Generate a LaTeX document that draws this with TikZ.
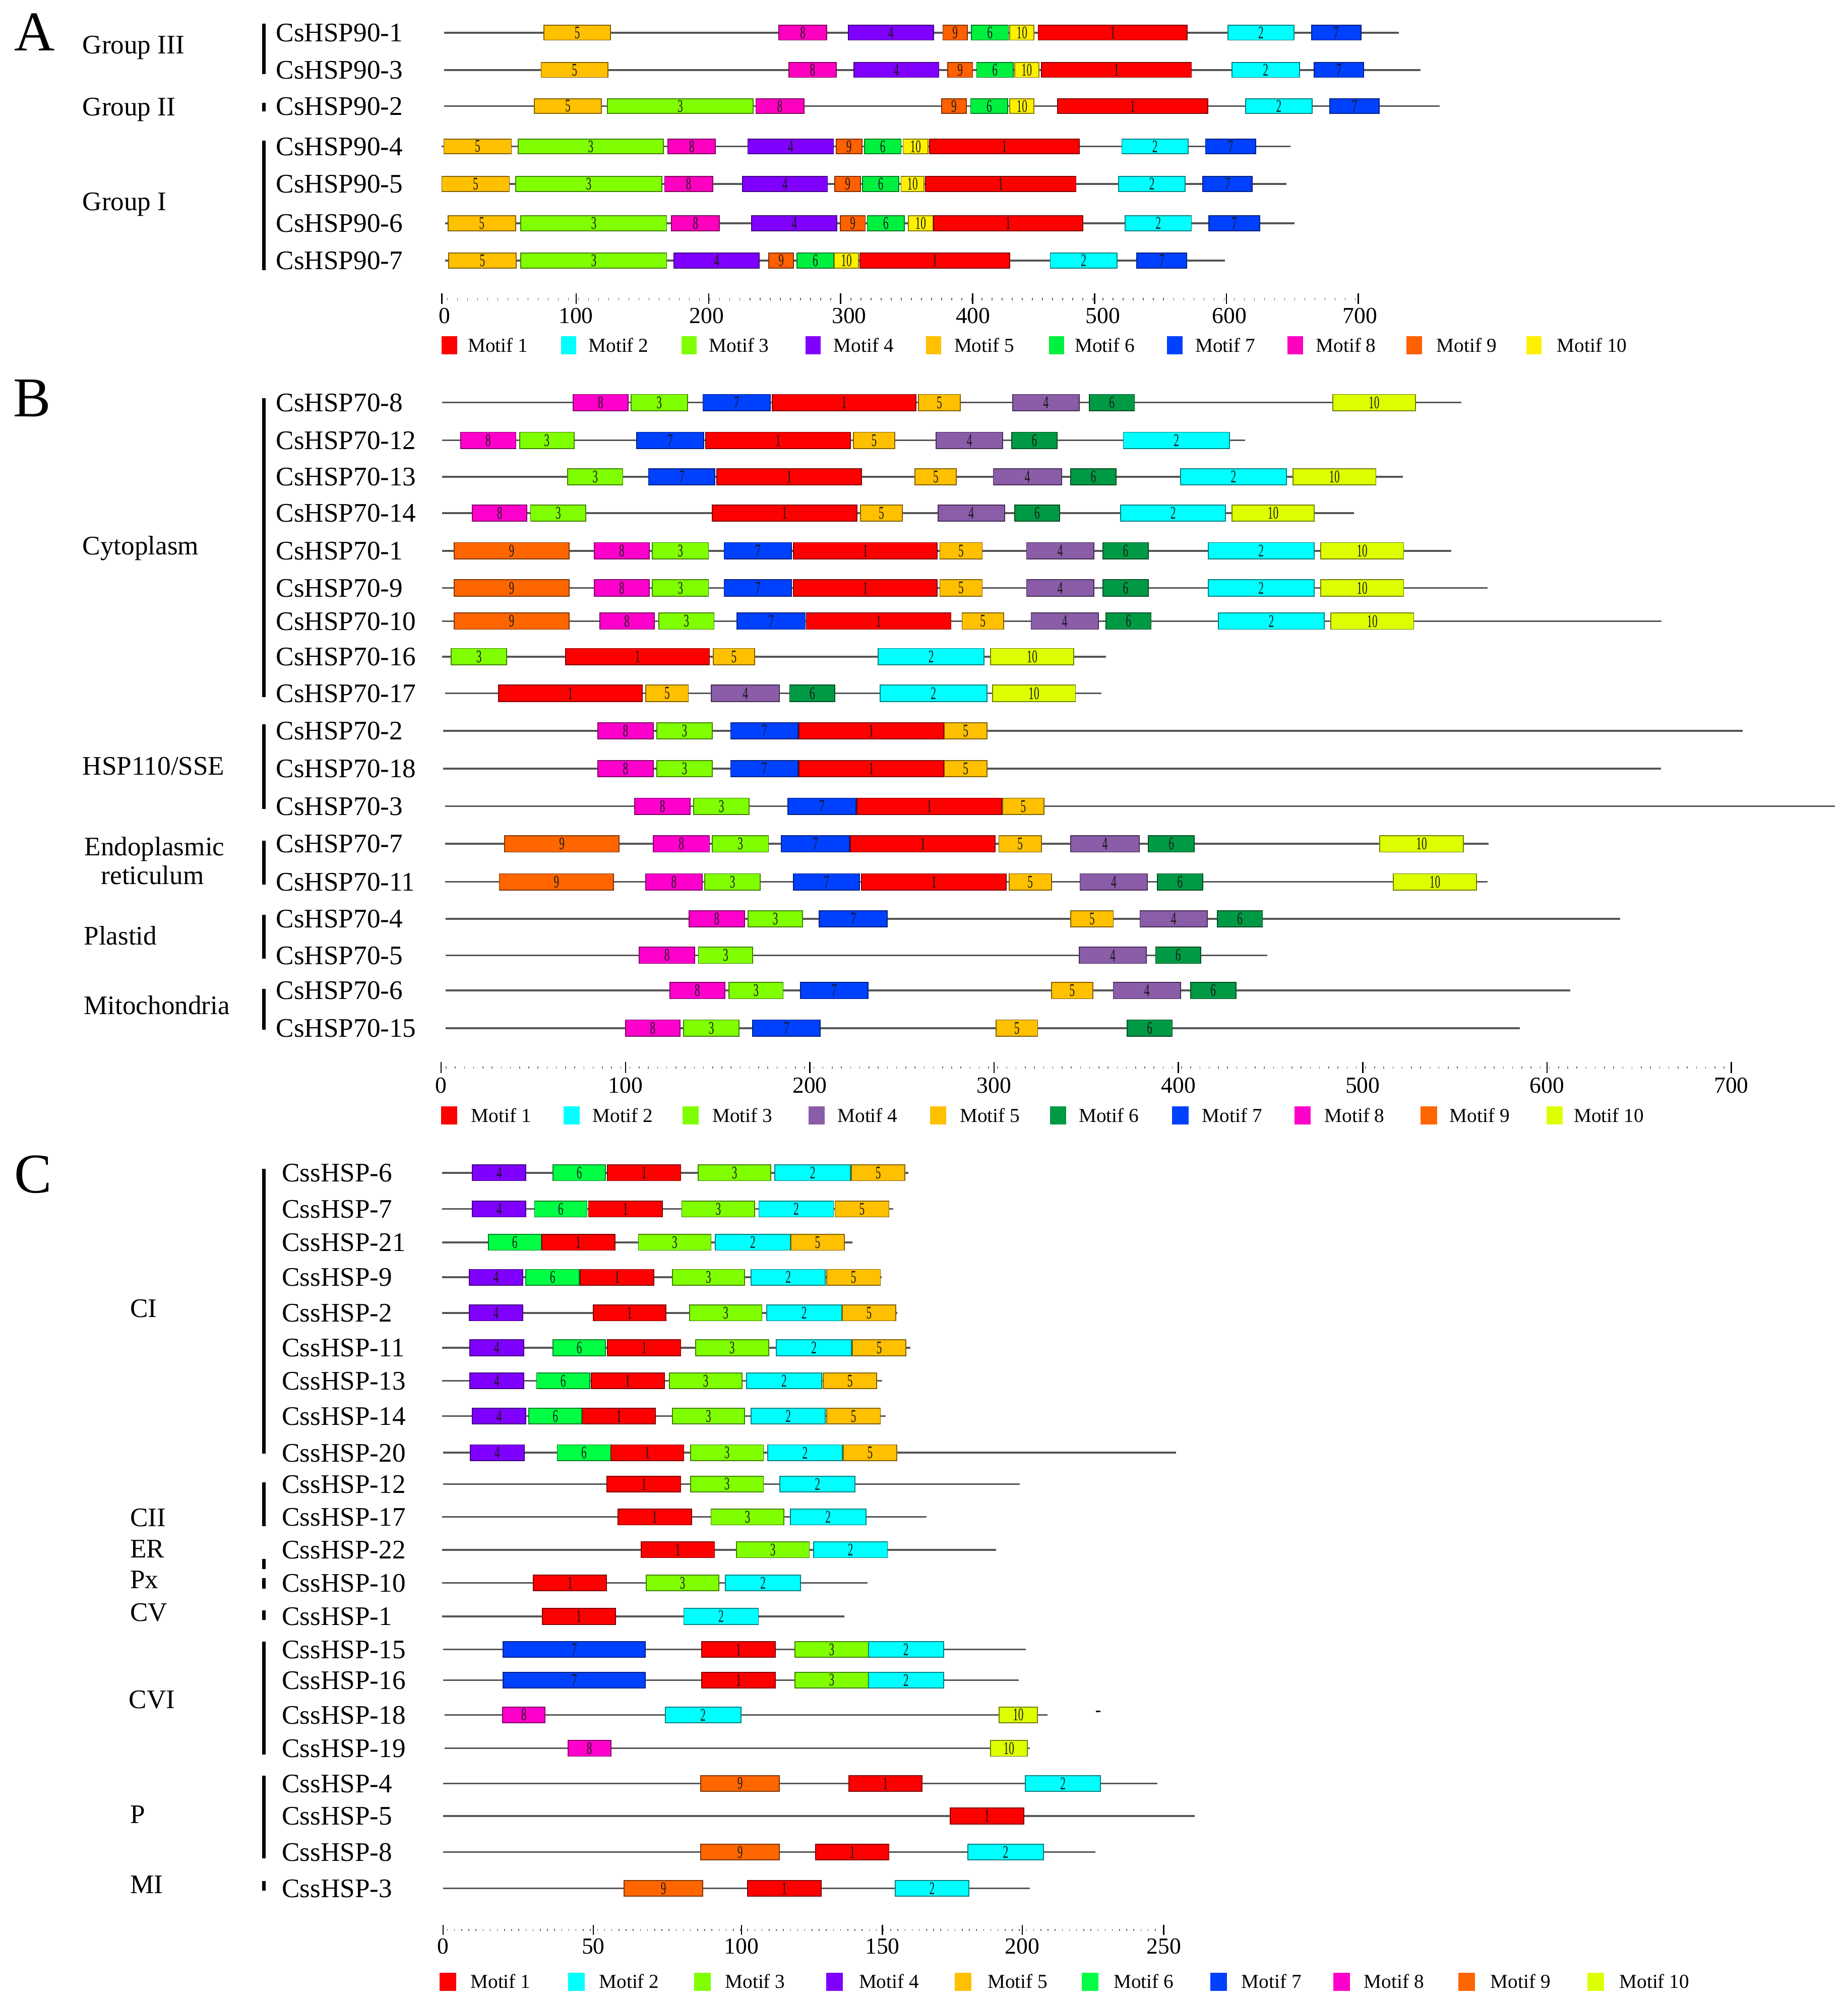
\documentclass[tikz,border=0pt]{standalone}
\usepackage{graphicx}
\usepackage{fontspec}
\setmainfont{Liberation Serif}
% Panel A colours
\definecolor{A1}{HTML}{FF0000}\definecolor{A2}{HTML}{00FFFF}\definecolor{A3}{HTML}{80FF00}
\definecolor{A4}{HTML}{8000FF}\definecolor{A5}{HTML}{FFC000}\definecolor{A6}{HTML}{00F040}
\definecolor{A7}{HTML}{0040FF}\definecolor{A8}{HTML}{FF00C0}\definecolor{A9}{HTML}{FF6000}
\definecolor{A10}{HTML}{FFF000}
% Panel B colours
\definecolor{B1}{HTML}{FF0000}\definecolor{B2}{HTML}{00FFFF}\definecolor{B3}{HTML}{80FF00}
\definecolor{B4}{HTML}{8B5CA8}\definecolor{B5}{HTML}{FFC000}\definecolor{B6}{HTML}{009A44}
\definecolor{B7}{HTML}{0040FF}\definecolor{B8}{HTML}{FF00CC}\definecolor{B9}{HTML}{FF6600}
\definecolor{B10}{HTML}{DDFF00}
% Panel C colours
\definecolor{C1}{HTML}{FF0000}\definecolor{C2}{HTML}{00FFFF}\definecolor{C3}{HTML}{80FF00}
\definecolor{C4}{HTML}{8000FF}\definecolor{C5}{HTML}{FFC000}\definecolor{C6}{HTML}{00FF44}
\definecolor{C7}{HTML}{0040FF}\definecolor{C8}{HTML}{FF00CC}\definecolor{C9}{HTML}{FF6600}
\definecolor{C10}{HTML}{DDFF00}
\definecolor{linegray}{HTML}{555555}
\newcount\mcnt
\def\pan{A}\def\bh{6}
\newcommand\mtf[4]{%
  \filldraw[fill=\pan#4, draw=\pan#4!50!black, line width=0.7pt] (#1,#3-\bh) rectangle (#2,#3+\bh);
  \global\advance\mcnt by 1
  \node[mnum] (mn\the\mcnt) at ({(#1+#2)/2},#3) {\scalebox{0.6}[1]{#4}};%
}
\newcommand\generow[4]{%
  \draw[gline] (#2,#1) -- (#3,#1);
  \foreach \a/\b/\m in {#4} {\mtf{\a}{\b}{#1}{\m}}%
}
\begin{document}
\begin{tikzpicture}[x=1pt,y=-1pt,
  gline/.style={line width=1.4pt, draw=linegray},
  gbar/.style={line width=2.6pt, draw=black},
  mnum/.style={font=\fontsize{14}{14}\selectfont, inner sep=0pt, text=black!90},
  gname/.style={anchor=west, font=\fontsize{21}{21}\selectfont, inner sep=0pt, text height=14pt, text depth=0pt},
  grp/.style={anchor=west, font=\fontsize{21}{21}\selectfont, inner sep=0pt, text height=14pt, text depth=0pt},
  grpc/.style={font=\fontsize{21}{21}\selectfont, inner sep=0pt, text height=14pt, text depth=0pt},
  panel/.style={font=\fontsize{44}{44}\selectfont, inner sep=0pt},
  axnum/.style={font=\fontsize{18}{18}\selectfont, inner sep=0pt, text height=12.2pt, text depth=0pt},
  legtxt/.style={anchor=west, font=\fontsize{15.5}{15.5}\selectfont, inner sep=0pt, text height=10.3pt, text depth=0pt},
  majt/.style={line width=1pt, draw=black},
  mint/.style={line width=1.6pt, draw=black!60}]
\fill[white] (0,0) rectangle (1447,1568);
\useasboundingbox (0,0) rectangle (1447,1568);

% ================= Panel A =================
\node[panel] (pA) at (27,25) {A};
\node[grp] (gIII) at (64.4,35) {Group III};
\node[grp] (gII) at (64.4,83.5) {Group II};
\node[grp] (gI) at (64.4,158) {Group I};
\draw[gbar] (206.6,18.5) -- (206.6,58.2);
\draw[gbar] (206.6,80.4) -- (206.6,87.3);
\draw[gbar] (206.6,110) -- (206.6,211.5);
\node[gname] (a1) at (216,25.6) {CsHSP90-1};
\node[gname] (a2) at (216,54.8) {CsHSP90-3};
\node[gname] (a3) at (216,83.1) {CsHSP90-2};
\node[gname] (a4) at (216,114.7) {CsHSP90-4};
\node[gname] (a5) at (216,144.1) {CsHSP90-5};
\node[gname] (a6) at (216,174.9) {CsHSP90-6};
\node[gname] (a7) at (216,204.1) {CsHSP90-7};
\def\pan{A}\def\bh{5.8}
\generow{25.6}{347.6}{1095.3}{425.9/478.2/5, 609.9/647.5/8, 664.4/731.0/4, 738.4/757.4/9, 760.6/789.7/6, 790.8/809.8/10, 813.0/929.8/1, 961.6/1013.4/2, 1027.1/1065.7/7}
\generow{54.8}{347.6}{1112.3}{423.8/476.1/5, 617.8/654.9/8, 668.6/735.2/4, 742.1/761.7/9, 764.8/793.4/6, 794.5/813.5/10, 815.6/933.0/1, 964.7/1017.6/2, 1029.2/1067.8/7}
\generow{83.1}{347.6}{1127.6}{418.5/470.8/5, 475.6/589.8/3, 591.9/629.5/8, 737.3/756.9/9, 760.1/789.2/6, 790.8/809.8/10, 828.3/945.7/1, 975.3/1027.7/2, 1041.4/1080.0/7}
\generow{114.7}{346}{1010.7}{347.6/400.5/5, 405.8/519.5/3, 523.2/560.2/8, 585.6/652.7/4, 654.8/674.9/9, 677.0/705.6/6, 707.2/726.8/10, 727.8/845.2/1, 878.5/930.4/2, 944.1/983.2/7}
\generow{144.1}{346}{1007.5}{346/398.9/5, 403.7/518.4/3, 520.5/558.1/8, 581.4/648.0/4, 653.8/673.9/9, 675.5/704.0/6, 705.6/723.6/10, 724.7/842.6/1, 875.9/928.2/2, 942.0/980.6/7}
\generow{174.9}{348.7}{1013.9}{350.8/403.7/5, 407.9/522.1/3, 525.8/563.4/8, 588.7/655.4/4, 658.0/677.6/9, 679.2/708.3/6, 711.4/730.5/10, 731.0/847.9/1, 881.2/933.0/2, 946.7/986.4/7}
\generow{204.1}{348.7}{959.4}{351.3/404.2/5, 407.9/522.1/3, 527.9/594.6/4, 602.0/621.5/9, 624.2/652.7/6, 653.3/672.3/10, 673.4/790.8/1, 822.5/874.8/2, 890.2/929.3/7}
% axis A
\draw[mint, dash pattern=on 0.6pt off 7.3pt] (350,234.3) -- (1062,234.3);
\foreach \tx/\lx/\t in {346.1/348/0, 451.2/451/100, 555.1/553.5/200, 658.3/665/300, 761.6/762/400, 857.3/863.6/500, 960.5/962.7/600, 1063.7/1065/700}{
  \draw[majt] (\tx,229.7) -- (\tx,238.2);
  \node[axnum] (axA\t) at (\lx,247) {\t};
}
% legend A
\foreach \sx/\tx [count=\i] in {346/366.3, 439.3/460.7, 533.7/555.1, 630.7/652.7, 725.1/747.1, 821.4/841.5, 914/935.9, 1008.3/1030.4, 1101.5/1124.8, 1195.3/1219.2}{
  \fill[A\i] (\sx,263.2) rectangle ++(12,14.5);
  \node[legtxt] (lgA\i) at (\tx,270.4) {Motif \i};
}

% ================= Panel B =================
\node[panel] (pB) at (25,312) {B};
\node[grp] (cyto) at (64.4,427.5) {Cytoplasm};
\node[grp] (hsp110) at (64.4,600) {HSP110/SSE};
\node[grpc] (er1) at (121,663) {Endoplasmic};
\node[grpc] (er2) at (119.5,685.5) {reticulum};
\node[grp] (plast) at (65.5,733) {Plastid};
\node[grp] (mito) at (65.5,787.5) {Mitochondria};
\draw[gbar] (206.6,312) -- (206.6,546);
\draw[gbar] (206.6,567.4) -- (206.6,633.5);
\draw[gbar] (206.6,658.4) -- (206.6,692.7);
\draw[gbar] (206.6,716.5) -- (206.6,750.9);
\draw[gbar] (206.6,774.7) -- (206.6,806.4);
\node[gname] (b1) at (216,315.3) {CsHSP70-8};
\node[gname] (b2) at (216,344.9) {CsHSP70-12};
\node[gname] (b3) at (216,373.5) {CsHSP70-13};
\node[gname] (b4) at (216,401.8) {CsHSP70-14};
\node[gname] (b5) at (216,431.4) {CsHSP70-1};
\node[gname] (b6) at (216,460.5) {CsHSP70-9};
\node[gname] (b7) at (216,486.5) {CsHSP70-10};
\node[gname] (b8) at (216,514.3) {CsHSP70-16};
\node[gname] (b9) at (216,543.0) {CsHSP70-17};
\node[gname] (b10) at (216,572.4) {CsHSP70-2};
\node[gname] (b11) at (216,602.0) {CsHSP70-18};
\node[gname] (b12) at (216,631.5) {CsHSP70-3};
\node[gname] (b13) at (216,660.9) {CsHSP70-7};
\node[gname] (b14) at (216,690.7) {CsHSP70-11};
\node[gname] (b15) at (216,719.6) {CsHSP70-4};
\node[gname] (b16) at (216,748.2) {CsHSP70-5};
\node[gname] (b17) at (216,775.8) {CsHSP70-6};
\node[gname] (b18) at (216,805.2) {CsHSP70-15};
\def\pan{B}\def\bh{6.4}
\generow{315.3}{346.2}{1144.6}{448.7/492.0/8, 494.2/538.3/3, 550.5/603.2/7, 604.7/717.3/1, 719.4/751.9/5, 793.1/845.1/4, 853.0/888.4/6, 1043.6/1108.5/10}
\generow{344.9}{346.2}{975.0}{360.7/404.0/8, 406.9/449.5/3, 498.5/551.2/7, 552.7/666.0/1, 668.2/700.7/5, 733.2/785.1/4, 792.4/827.7/6, 879.7/962.7/2}
\generow{373.5}{346.2}{1098.5}{444.4/487.7/3, 507.9/559.9/7, 561.3/674.7/1, 716.6/749.0/5, 777.9/831.3/4, 838.6/873.9/6, 924.5/1007.5/2, 1012.5/1077.5/10}
\generow{401.8}{346.2}{1060.2}{370.0/412.6/8, 415.5/458.8/3, 557.7/671.1/1, 674.0/706.5/5, 734.6/786.6/4, 794.5/829.9/6, 877.6/959.8/2, 964.9/1029.1/10}
\generow{431.4}{346.2}{1136.7}{355.6/445.8/9, 465.3/508.6/8, 510.8/554.8/3, 567.1/619.8/7, 621.3/733.9/1, 736.0/769.2/5, 803.9/856.6/4, 863.8/899.2/6, 946.1/1029.1/2, 1034.2/1099.2/10}
\generow{460.5}{346.2}{1164.9}{355.6/445.8/9, 465.3/508.6/8, 510.8/554.8/3, 567.1/619.8/7, 621.3/733.9/1, 736.0/769.2/5, 803.9/856.6/4, 863.8/899.2/6, 946.1/1029.1/2, 1034.2/1099.2/10}
\generow{486.5}{346.2}{1301.3}{355.6/445.8/9, 469.7/512.3/8, 515.9/559.2/3, 577.2/630.6/7, 631.4/744.7/1, 753.4/785.9/5, 807.5/860.2/4, 866.0/901.4/6, 954.1/1037.1/2, 1042.1/1107.1/10}
\generow{514.3}{346.2}{866.0}{353.4/396.8/3, 443.0/555.6/1, 558.5/590.9/5, 687.7/770.7/2, 775.8/840.7/10}
\generow{543.0}{348.4}{862.4}{390.3/502.9/1, 505.8/539.0/5, 557.0/610.4/4, 618.4/653.8/6, 689.1/772.9/2, 777.2/842.2/10}
\generow{572.4}{346.9}{1364.8}{468.2/511.5/8, 514.4/557.7/3, 572.2/624.9/7, 625.6/739.0/1, 739.6/772.9/5}
\generow{602.0}{346.9}{1300.6}{468.2/511.5/8, 514.4/557.7/3, 572.2/624.9/7, 625.6/739.0/1, 739.6/772.9/5}
\generow{631.5}{348.4}{1437}{497.1/540.4/8, 543.3/586.6/3, 616.9/670.3/7, 671.1/784.4/1, 785.1/817.6/5}
\generow{660.9}{348.4}{1165.6}{395.3/484.8/9, 511.5/555.6/8, 557.7/601.8/3, 611.9/665.3/7, 666.0/779.4/1, 782.2/815.5/5, 838.6/892.0/4, 899.2/935.3/6, 1080.4/1146.1/10}
\generow{690.7}{348.4}{1164.9}{391.0/480.5/9, 505.8/549.8/8, 552.0/595.3/3, 621.3/673.2/7, 674.7/788.0/1, 790.2/823.4/5, 845.8/898.5/4, 906.4/941.8/6, 1091.2/1156.2/10}
\generow{719.6}{349.1}{1268.8}{539.7/583.0/8, 585.9/628.5/3, 641.5/694.9/7, 838.6/871.8/5, 892.7/945.4/4, 953.3/988.7/6}
\generow{748.2}{349.1}{992.3}{500.7/544.0/8, 546.9/589.5/3, 845.1/897.8/4, 905.0/940.3/6}
\generow{775.8}{349.1}{1229.8}{524.5/567.8/8, 570.7/613.3/3, 627.0/679.7/7, 823.4/855.9/5, 871.8/924.5/4, 932.4/967.8/6}
\generow{805.2}{349.1}{1190.1}{489.9/532.5/8, 535.4/578.7/3, 589.5/642.2/7, 780.1/812.6/5, 882.6/918.0/6}
% axis B
\draw[mint, dash pattern=on 0.6pt off 6.6pt] (349,836) -- (1353,836);
\foreach \i/\t in {0/0,1/100,2/200,3/300,4/400,5/500,6/600,7/700}{
  \draw[majt] ({345.5+144.33*\i},831.8) -- ({345.5+144.33*\i},840.3);
  \node[axnum] (axB\t) at ({345.5+144.33*\i},850) {\t};
}
% legend B
\foreach \sx/\tx [count=\i] in {345.5/368.8, 441.4/464, 534.5/557.7, 633.1/655.7, 728.3/751.6, 822.1/844.7, 918/941.2, 1013.8/1037.1, 1112.6/1135.1, 1211.2/1232.4}{
  \fill[B\i] (\sx,866.6) rectangle ++(12.7,14);
  \node[legtxt] (lgB\i) at (\tx,873.6) {Motif \i};
}

% ================= Panel C =================
\node[panel] (pC) at (26,920) {C};
\node[grp] (cI) at (101.7,1024.8) {CI};
\node[grp] (cII) at (101.7,1188.4) {CII};
\node[grp] (cER) at (101.7,1212.9) {ER};
\node[grp] (cPx) at (101.7,1237) {Px};
\node[grp] (cV) at (101.7,1262.6) {CV};
\node[grp] (cVI) at (100.7,1331) {CVI};
\node[grp] (cP) at (101.7,1421) {P};
\node[grp] (cMI) at (101.7,1476) {MI};
\draw[gbar] (206.6,915.5) -- (206.6,1138.6);
\draw[gbar] (206.6,1160.9) -- (206.6,1195.2);
\draw[gbar] (206.6,1221) -- (206.6,1229);
\draw[gbar] (206.6,1235.8) -- (206.6,1244.3);
\draw[gbar] (206.6,1261.3) -- (206.6,1268.9);
\draw[gbar] (206.6,1285.8) -- (206.6,1374.2);
\draw[gbar] (206.6,1390.7) -- (206.6,1455.4);
\draw[gbar] (206.6,1473.2) -- (206.6,1480.8);
\node[gname] (c1) at (220.6,918.5) {CssHSP-6};
\node[gname] (c2) at (220.6,946.9) {CssHSP-7};
\node[gname] (c3) at (220.6,973.0) {CssHSP-21};
\node[gname] (c4) at (220.6,1000.4) {CssHSP-9};
\node[gname] (c5) at (220.6,1028.3) {CssHSP-2};
\node[gname] (c6) at (220.6,1055.6) {CssHSP-11};
\node[gname] (c7) at (220.6,1081.5) {CssHSP-13};
\node[gname] (c8) at (220.6,1109.1) {CssHSP-14};
\node[gname] (c9) at (220.6,1137.8) {CssHSP-20};
\node[gname] (c10) at (220.6,1162.3) {CssHSP-12};
\node[gname] (c11) at (220.6,1188.1) {CssHSP-17};
\node[gname] (c12) at (220.6,1213.8) {CssHSP-22};
\node[gname] (c13) at (220.6,1239.8) {CssHSP-10};
\node[gname] (c14) at (220.6,1266.0) {CssHSP-1};
\node[gname] (c15) at (220.6,1291.9) {CssHSP-15};
\node[gname] (c16) at (220.6,1315.9) {CssHSP-16};
\node[gname] (c17) at (220.6,1343.1) {CssHSP-18};
\node[gname] (c18) at (220.6,1369.3) {CssHSP-19};
\node[gname] (c19) at (220.6,1396.8) {CssHSP-4};
\node[gname] (c20) at (220.6,1422.3) {CssHSP-5};
\node[gname] (c21) at (220.6,1450.6) {CssHSP-8};
\node[gname] (c22) at (220.6,1479.0) {CssHSP-3};
\def\pan{C}\def\bh{6.2}
\generow{918.5}{346.1}{711.5}{369.9/411.8/4, 433.1/474.2/6, 475.8/533.1/1, 546.8/603.6/3, 606.8/666.0/2, 666.8/708.7/5}
\generow{946.9}{346.1}{699.5}{369.9/411.8/4, 418.6/459.7/6, 460.9/518.6/1, 533.9/591.1/3, 594.3/652.7/2, 653.9/696.2/5}
\generow{973.0}{346.1}{667.6}{382.4/423.9/6, 424.3/481.5/1, 500.0/556.8/3, 560.1/618.9/2, 619.3/661.2/5}
\generow{1000.4}{346.1}{690.6}{367.5/409.4/4, 411.8/453.7/6, 454.5/512.1/1, 526.6/583.0/3, 588.3/646.3/2, 647.5/689.4/5}
\generow{1028.3}{346.1}{702.7}{367.5/409.4/4, 464.6/521.4/1, 539.9/596.7/3, 600.3/659.2/2, 659.6/701.5/5}
\generow{1055.6}{346.1}{712.8}{367.9/410.2/4, 433.1/474.2/6, 475.8/533.1/1, 544.7/601.9/3, 608.0/666.8/2, 667.6/709.5/5}
\generow{1081.5}{346.1}{691.0}{367.9/410.2/4, 420.2/461.8/6, 463.0/520.2/1, 524.2/581.0/3, 584.6/643.5/2, 644.7/686.6/5}
\generow{1109.1}{346.1}{693.4}{369.9/411.8/4, 414.2/455.7/6, 456.1/513.3/1, 526.6/583.0/3, 588.3/646.3/2, 647.5/689.4/5}
\generow{1137.8}{346.9}{921.1}{368.3/410.6/4, 436.4/478.3/6, 478.3/535.5/1, 540.7/597.9/3, 601.2/659.6/2, 660.4/702.3/5}
\generow{1162.3}{346.9}{798.6}{475.4/533.1/1, 540.7/597.9/3, 610.8/669.6/2}
\generow{1188.1}{346.1}{725.6}{483.9/541.5/1, 556.8/614.0/3, 618.9/678.1/2}
\generow{1213.8}{346.1}{780.0}{502.0/559.6/1, 576.6/633.8/3, 637.0/695.0/2}
\generow{1239.8}{346.1}{679.3}{417.8/475.0/1, 506.1/562.9/3, 568.1/626.9/2}
\generow{1266.0}{346.1}{661.2}{424.7/481.9/1, 535.5/593.9/2}
\generow{1291.9}{346.9}{803.4}{394.1/505.3/7, 549.6/607.2/1, 622.5/680.1/3, 680.1/738.9/2}
\generow{1315.9}{346.9}{797.8}{394.1/505.3/7, 549.6/607.2/1, 622.5/680.1/3, 680.1/738.9/2}
\generow{1343.1}{348.1}{820.3}{393.7/426.7/8, 521.0/580.2/2, 782.5/812.3/10}
\draw[line width=1.3pt, draw=black] (858.3,1340.5) -- (861.8,1340.5);
\generow{1369.3}{348.1}{806.6}{444.8/478.3/8, 775.6/804.6/10}
\generow{1396.8}{346.9}{906.2}{548.8/610.4/9, 664.8/722.0/1, 803.0/861.8/2}
\generow{1422.3}{346.9}{935.6}{744.2/801.8/1}
\generow{1450.6}{346.9}{857.8}{548.8/610.4/9, 638.6/696.2/1, 757.9/817.1/2}
\generow{1479.0}{346.9}{806.6}{488.7/550.4/9, 585.4/643.0/1, 701.1/758.7/2}
% axis C
\draw[mint, dash pattern=on 0.6pt off 5pt] (350,1511.6) -- (909,1511.6);
\foreach \tx/\t in {346.9/0, 464.6/50, 580.6/100, 691.0/150, 800.6/200, 911.4/250}{
  \draw[majt] (\tx,1507.6) -- (\tx,1515.5);
  \node[axnum] (axC\t) at (\tx,1524) {\t};
}
% legend C
\foreach \sx/\tx [count=\i] in {344.1/368.3, 444.8/469, 543.5/567.7, 647.1/672.5, 747.8/773.2, 847/871.9, 948/972, 1044/1068, 1142/1167, 1243/1268}{
  \fill[C\i] (\sx,1545.1) rectangle ++(13,14);
  \node[legtxt] (lgC\i) at (\tx,1552.1) {Motif \i};
}
\end{tikzpicture}
\end{document}
